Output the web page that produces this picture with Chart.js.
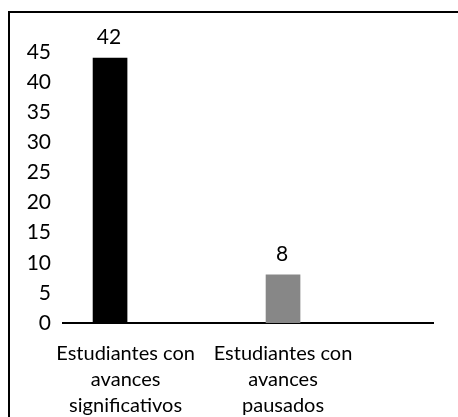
<!DOCTYPE html>
<html>
<head>
<meta charset="utf-8">
<script src="https://cdn.jsdelivr.net/npm/chart.js@4"></script>
<style>
  html, body { margin: 0; padding: 0; background: #fff; overflow: hidden; }
  #wrap { position: relative; width: 458px; height: 417px; }
  #frame { position: absolute; left: 8px; top: 11px; width: 460px; height: 420px;
           border-top: 2px solid #000; border-left: 2px solid #000; }
  #chart { position: absolute; left: 0; top: 0; }
</style>
</head>
<body>
<div id="wrap">
  <div id="frame"></div>
  <canvas id="chart" width="458" height="417"></canvas>
</div>
<script>
/* ===== DATA ===== */
const categories = [
  ["Estudiantes con", "avances", "significativos"],
  ["Estudiantes con", "avances", "pausados"]
];
// bar heights as drawn in the picture
const values = [44, 8];
// value labels as printed above the bars
const valueLabels = ["42", "8"];
const barColors = ["#000000", "#878787"];
const yTicks = [0, 5, 10, 15, 20, 25, 30, 35, 40, 45];

/* ===== LABELS ABOVE BARS ===== */
const valueLabelPlugin = {
  id: "valueLabels",
  afterDatasetsDraw(chart) {
    const ctx = chart.ctx;
    const meta = chart.getDatasetMeta(0);
    ctx.save();
    ctx.font = "21px Lato";
    ctx.fillStyle = "#000";
    ctx.textAlign = "center";
    ctx.textBaseline = "alphabetic";
    meta.data.forEach(function(bar, i) {
      ctx.fillText(valueLabels[i], bar.x - 1, bar.y - 14);
    });
    ctx.restore();
  }
};

// first label sits a bit right of its bar in the original
const labelShift = [0.09, 0];

new Chart(document.getElementById("chart"), {
  type: "bar",
  data: {
    datasets: [{
      data: values.map((v, i) => ({ x: i, y: v })),
      backgroundColor: barColors,
      barThickness: 34
    }]
  },
  options: {
    responsive: false,
    animation: false,
    layout: { padding: { left: 13, right: 25, top: 52, bottom: 0 } },
    plugins: { legend: { display: false }, tooltip: { enabled: false } },
    scales: {
      x: {
        type: "linear",
        offset: false,
        bounds: "data",
        min: -0.272,
        max: 1.867,
        grid: { display: false },
        border: { display: true, color: "#000", width: 2 },
        afterBuildTicks: function(scale) {
          scale.ticks = categories.map((c, i) => ({ value: i + labelShift[i] }));
        },
        afterFit: function(scale) { scale.height = 94; },
        ticks: {
          autoSkip: false,
          maxRotation: 0,
          padding: 10,
          color: "#000",
          font: { family: "Lato", size: 20, lineHeight: 1.3 },
          callback: (value, index) => categories[index]
        }
      },
      y: {
        min: 0,
        max: 45,
        grid: { display: false },
        border: { display: false },
        afterBuildTicks: function(scale) {
          scale.ticks = yTicks.map(v => ({ value: v }));
        },
        afterFit: function(scale) { scale.width = 50; },
        ticks: {
          padding: 4,
          color: "#000",
          font: { family: "Lato", size: 21 }
        }
      }
    }
  },
  plugins: [valueLabelPlugin]
});
</script>
</body>
</html>
